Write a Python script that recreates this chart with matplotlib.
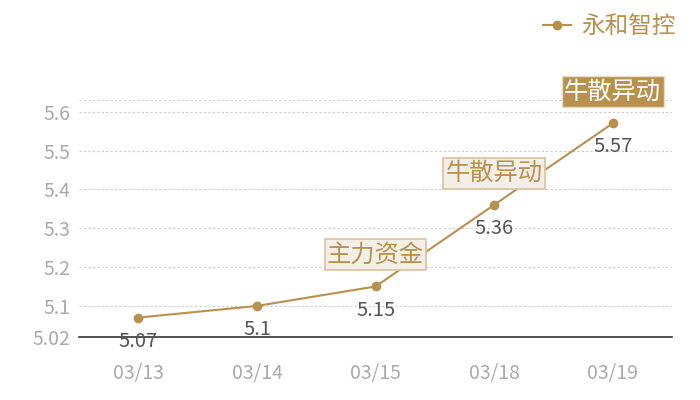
import matplotlib

matplotlib.use("Agg")

import matplotlib.pyplot as plt

plt.rcParams["font.family"] = ["Noto Sans CJK SC", "DejaVu Sans"]

# 数据
dates = ["03/13", "03/14", "03/15", "03/18", "03/19"]
prices = [5.07, 5.1, 5.15, 5.36, 5.57]
y_ticks = [5.02, 5.1, 5.2, 5.3, 5.4, 5.5, 5.6]
y_top = 5.63
series_name = "永和智控"
# (索引, 文本, 是否实心)
tags = [(2, "主力资金", False), (3, "牛散异动", False), (4, "牛散异动", True)]

GOLD = "#B8914F"
TICK_GRAY = "#AAAAAA"
LABEL_GRAY = "#555555"

fig = plt.figure(figsize=(7, 4), dpi=100)
ax = fig.add_axes([0.113, 0.1575, 0.847, 0.5925])

x = list(range(len(dates)))
ax.plot(x, prices, color=GOLD, linewidth=1.5, marker="o", markersize=6,
        label=series_name, zorder=3)

for xi, val in zip(x, prices):
    ax.annotate(f"{val:g}", (xi, val), xytext=(0, -17), textcoords="offset points",
                ha="center", va="center", fontsize=14.5, color=LABEL_GRAY, zorder=4)

for idx, text, filled in tags:
    if filled:
        bbox = dict(boxstyle="square,pad=0.1", facecolor=GOLD, edgecolor="#E8DCC4",
                    linewidth=1.0)
        color = "white"
    else:
        bbox = dict(boxstyle="square,pad=0.1", facecolor="#F3EEE6", edgecolor="#D9C29E",
                    linewidth=1.2)
        color = GOLD
    ax.annotate(text, (idx, prices[idx]), xytext=(0, 13.5), textcoords="offset points",
                ha="center", va="bottom", fontsize=17.5, color=color, bbox=bbox, zorder=5)

ax.set_xlim(-0.5, len(dates) - 0.5)
ax.set_ylim(y_ticks[0], y_top)
ax.set_xticks(x)
ax.set_xticklabels(dates)
ax.set_yticks(y_ticks + [y_top])
ax.set_yticklabels([f"{t:g}" for t in y_ticks] + [""])
ax.tick_params(axis="both", length=0, labelsize=14, labelcolor=TICK_GRAY)
ax.tick_params(axis="x", pad=19)
ax.tick_params(axis="y", pad=6)

ax.grid(True, axis="y", linestyle=(0, (2, 2)), color="#CCCCCC", linewidth=0.8)
ax.set_axisbelow(True)
for side in ("top", "right", "left"):
    ax.spines[side].set_visible(False)
ax.spines["bottom"].set_color("#333333")
ax.spines["bottom"].set_linewidth(1.2)

leg = fig.legend(loc="upper right", bbox_to_anchor=(0.995, 1.015), frameon=False,
                 fontsize=17, handlelength=1.2, handletextpad=0.4)
for t in leg.get_texts():
    t.set_color(GOLD)

fig.savefig("out.png", dpi=100)
